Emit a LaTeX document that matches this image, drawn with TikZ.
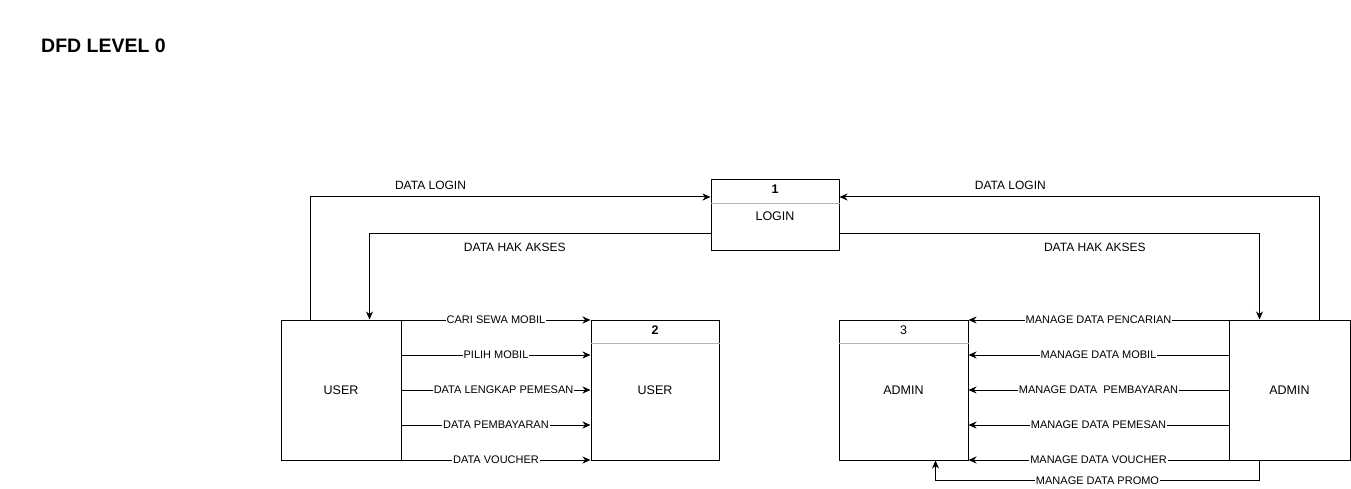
\documentclass[tikz,border=0pt]{standalone}
\usepackage{fontspec}
\setmainfont{Liberation Sans}
\usetikzlibrary{arrows.meta}
\begin{document}
\begin{tikzpicture}[x=1pt,y=-1pt,
  box/.style={draw=black,line width=1pt,inner sep=0pt,
    font=\fontsize{12.5}{14}\selectfont},
  divider/.style={draw=gray!60,line width=1pt},
  flow/.style={draw=black,line width=1pt,
    -{Stealth[length=8pt,width=7pt,inset=2.5pt]}},
  lbl/.style={fill=white,inner sep=1pt,font=\fontsize{11}{13}\selectfont},
  toplbl/.style={inner sep=0pt,font=\fontsize{12}{14}\selectfont},
  idx/.style={inner sep=0pt,font=\fontsize{12.5}{14}\selectfont}]
\useasboundingbox (0,0) rectangle (1351,489);

\node[anchor=west,inner sep=0pt,font=\fontsize{19.5}{21}\selectfont\bfseries]
  (title) at (41,46) {DFD LEVEL 0};

% processes and external entities
\node[box,minimum width=128pt,minimum height=70pt] (login) at (775,215) {};
\node[box,minimum width=120pt,minimum height=140pt] (user) at (341,390) {USER};
\node[box,minimum width=128pt,minimum height=140pt] (p2) at (655,390) {USER};
\node[box,minimum width=129pt,minimum height=140pt] (p3) at (903.5,390) {ADMIN};
\node[box,minimum width=121pt,minimum height=140pt] (admin) at (1289.5,390) {ADMIN};

% process headers (shifts are in canvas units: negative is downward)
\draw[divider] ([yshift=-24pt]login.north west) -- ([yshift=-24pt]login.north east);
\draw[divider] ([yshift=-24pt]p2.north west) -- ([yshift=-24pt]p2.north east);
\draw[divider] ([yshift=-24pt]p3.north west) -- ([yshift=-24pt]p3.north east);
\node[idx,font=\fontsize{12.5}{14}\selectfont\bfseries] (n1) at ([yshift=-10pt]login.north) {1};
\node[idx] (t1) at ([yshift=-37pt]login.north) {LOGIN};
\node[idx,font=\fontsize{12.5}{14}\selectfont\bfseries] (n2) at ([yshift=-11pt]p2.north) {2};
\node[idx] (n3) at ([yshift=-11pt]p3.north) {3};

% login flows
\draw[flow] ([xshift=30pt]user.north west) |-
  node[toplbl,pos=0.65,yshift=12pt] {DATA LOGIN} ([yshift=18pt]login.west);
\draw[flow] ([yshift=-18pt]login.west) -|
  node[toplbl,pos=0.287,yshift=-14pt] {DATA HAK AKSES} ([xshift=89pt]user.north west);
\draw[flow] ([xshift=91pt]admin.north west) |-
  node[toplbl,pos=0.822,yshift=12pt] {DATA LOGIN} ([yshift=18pt]login.east);
\draw[flow] ([yshift=-18pt]login.east) -|
  node[toplbl,pos=0.304,yshift=-14pt] {DATA HAK AKSES} ([xshift=31pt]admin.north west);

% user flows into process 2
\draw[flow] ([yshift=70pt]user.east) -- node[lbl] {CARI SEWA MOBIL} ([yshift=70pt]p2.west);
\draw[flow] ([yshift=35pt]user.east) -- node[lbl] {PILIH MOBIL} ([yshift=35pt]p2.west);
\draw[flow] (user.east) -- node[lbl,pos=0.54] {DATA LENGKAP PEMESAN} (p2.west);
\draw[flow] ([yshift=-35pt]user.east) -- node[lbl] {DATA PEMBAYARAN} ([yshift=-35pt]p2.west);
\draw[flow] ([yshift=-70pt]user.east) -- node[lbl] {DATA VOUCHER} ([yshift=-70pt]p2.west);

% admin flows into process 3
\draw[flow] ([yshift=70pt]admin.west) -- node[lbl] {MANAGE DATA PENCARIAN} ([yshift=70pt]p3.east);
\draw[flow] ([yshift=35pt]admin.west) -- node[lbl] {MANAGE DATA MOBIL} ([yshift=35pt]p3.east);
\draw[flow] (admin.west) -- node[lbl] {MANAGE DATA\ \ PEMBAYARAN} (p3.east);
\draw[flow] ([yshift=-35pt]admin.west) -- node[lbl] {MANAGE DATA PEMESAN} ([yshift=-35pt]p3.east);
\draw[flow] ([yshift=-70pt]admin.west) -- node[lbl] {MANAGE DATA VOUCHER} ([yshift=-70pt]p3.east);
\draw[flow] ([xshift=31pt]admin.south west) -- ++(0,-20pt) -|
  node[lbl,pos=0.25] {MANAGE DATA PROMO} ([xshift=97pt]p3.south west);
\end{tikzpicture}
\end{document}
